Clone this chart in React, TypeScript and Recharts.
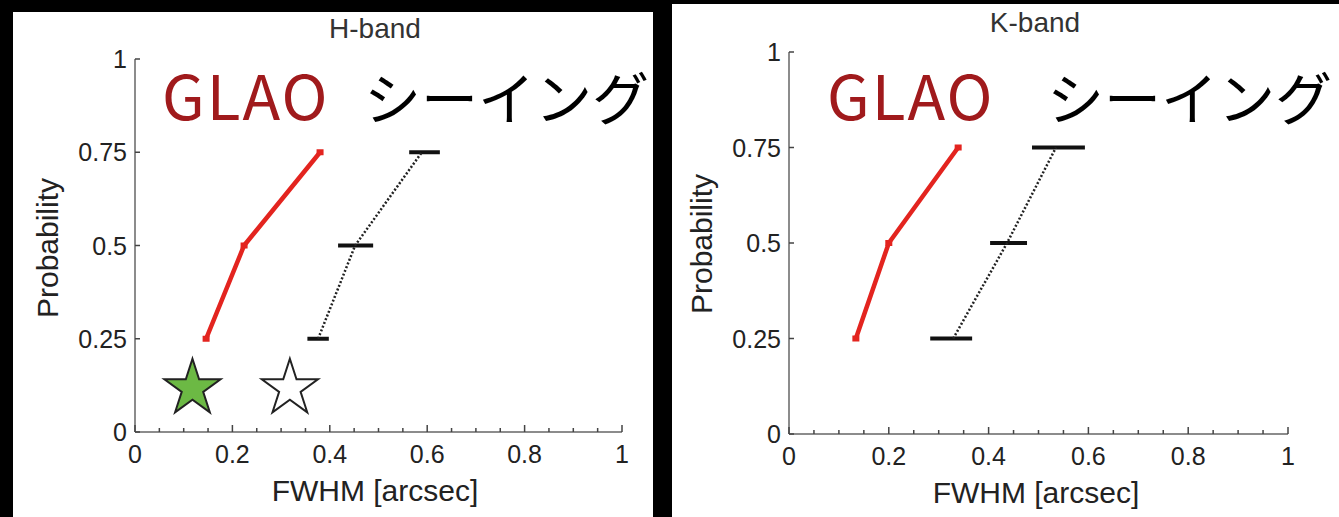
import React from "react";
import { ScatterChart, Scatter, XAxis, YAxis, ErrorBar, Symbols } from "recharts";

// ticks
const xTicks = [0, 0.05, 0.1, 0.15, 0.2, 0.25, 0.3, 0.35, 0.4, 0.45, 0.5, 0.55, 0.6, 0.65, 0.7, 0.75, 0.8, 0.85, 0.9, 0.95, 1];
const xMajor = [0, 0.2, 0.4, 0.6, 0.8, 1];
const yTicks = [0, 0.25, 0.5, 0.75, 1];

// probability levels (shared)
const probs = [0.25, 0.5, 0.75];

// H-band
const hGlaoFwhm = [0.146, 0.224, 0.38];
const hSeeingFwhm = [0.376, 0.452, 0.589];
const hSeeingLow = [0.354, 0.417, 0.563];
const hSeeingHigh = [0.398, 0.489, 0.626];
const hStarX = [0.118, 0.318];
const hStarY = [0.117, 0.117];
const hStarFill = ["#6cb944", "#ffffff"];

// K-band
const kGlaoFwhm = [0.134, 0.2, 0.339];
const kSeeingFwhm = [0.329, 0.437, 0.535];
const kSeeingLow = [0.283, 0.403, 0.487];
const kSeeingHigh = [0.367, 0.477, 0.593];

const AXIS_FONT = '"Liberation Sans", Arial, sans-serif';
const JP_FONT = '"Noto Sans CJK JP", "Noto Sans", sans-serif';
const XH = 40; // x axis band height
const YW = 60; // y axis band width

const XTick = (props: any) => {
  const { x, y, payload } = props;
  const major = xMajor.includes(payload.value);
  return (
    <g>
      <line x1={x} x2={x} y1={y} y2={y - (major ? 7 : 4)} stroke="#444" strokeWidth={1.5} />
      {major && (
        <text x={x} y={y + 31} textAnchor="middle" fontSize={25} fill="#222" fontFamily={AXIS_FONT}>
          {String(payload.value)}
        </text>
      )}
    </g>
  );
};

const YTick = (props: any) => {
  const { x, y, payload } = props;
  return (
    <g>
      <line x1={x} x2={x + 5} y1={y} y2={y} stroke="#444" strokeWidth={1.5} />
      <text x={x - 8} y={y} dy="0.36em" textAnchor="end" fontSize={25} fill="#222" fontFamily={AXIS_FONT}>
        {String(payload.value)}
      </text>
    </g>
  );
};

const RedMark = (p: any) => <rect x={p.cx - 3.5} y={p.cy - 3} width={7} height={6} fill="#e3241f" />;
const NoMark = () => <g />;

interface PanelProps {
  left: number; top: number; width: number; height: number;
  margin: { top: number; right: number; bottom: number; left: number };
  title: string; titleX: number; titleY: number;
  ylabX: number; ylabY: number; xlabX: number; xlabY: number;
  glaoX: number; glaoY: number; seeX: number; seeY: number;
  glao: number[]; seeing: number[]; low: number[]; high: number[];
  stars?: { x: number; y: number; fill: string }[];
}

function Panel(p: PanelProps) {
  const glaoData = probs.map((y, i) => ({ x: p.glao[i], y }));
  const seeData = probs.map((y, i) => ({
    x: p.seeing[i], y, err: [p.seeing[i] - p.low[i], p.high[i] - p.seeing[i]],
  }));
  const m = { top: p.margin.top, right: p.margin.right, bottom: p.margin.bottom - XH, left: p.margin.left - YW };
  return (
    <div style={{ position: "absolute", left: p.left, top: p.top, width: p.width, height: p.height, background: "#fff", overflow: "hidden" }}>
      <ScatterChart width={p.width} height={p.height} margin={m}>
        <XAxis type="number" dataKey="x" domain={[0, 1]} ticks={xTicks} interval={0} tick={<XTick />}
          tickLine={false} tickSize={0} tickMargin={0} height={XH} axisLine={{ stroke: "#666", strokeWidth: 1.5 }} />
        <YAxis type="number" dataKey="y" domain={[0, 1]} ticks={yTicks} interval={0} tick={<YTick />}
          tickLine={false} tickSize={0} tickMargin={0} width={YW} axisLine={{ stroke: "#666", strokeWidth: 1.5 }} />
        <Scatter data={seeData} isAnimationActive={false} shape={<NoMark />}
          line={{ stroke: "#222", strokeWidth: 2.5, strokeDasharray: "2 2" }}>
          <ErrorBar dataKey="err" direction="x" width={0} stroke="#111" strokeWidth={4} isAnimationActive={false} />
        </Scatter>
        <Scatter data={glaoData} isAnimationActive={false} shape={<RedMark />}
          line={{ stroke: "#e3241f", strokeWidth: 4.5 }} />
        {p.stars && (
          <Scatter data={p.stars} isAnimationActive={false}
            shape={(s: any) => (
              <Symbols cx={s.cx} cy={s.cy} type="star" size={980} fill={s.payload.fill} stroke="#222" strokeWidth={2} />
            )} />
        )}
      </ScatterChart>
      <svg width={p.width} height={p.height} style={{ position: "absolute", left: 0, top: 0, pointerEvents: "none" }}>
        <text x={p.titleX} y={p.titleY} textAnchor="middle" fontSize={28} fill="#333" fontFamily={AXIS_FONT}>{p.title}</text>
        <text x={p.ylabX} y={p.ylabY} textAnchor="middle" dy="0.36em" fontSize={30} fill="#222" fontFamily={AXIS_FONT}
          transform={`rotate(-90 ${p.ylabX} ${p.ylabY})`}>Probability</text>
        <text x={p.xlabX} y={p.xlabY} textAnchor="middle" fontSize={30} fill="#222" fontFamily={AXIS_FONT}>FWHM [arcsec]</text>
        <text x={p.glaoX} y={p.glaoY} fontSize={62} letterSpacing={2} fill="#a01a1c" fontFamily={JP_FONT}>GLAO</text>
        <text x={p.seeX} y={p.seeY} fontSize={57} fill="#000" fontFamily={JP_FONT}>シーイング</text>
      </svg>
    </div>
  );
}

export default function App() {
  const hStars = hStarX.map((x, i) => ({ x, y: hStarY[i], fill: hStarFill[i] }));
  return (
    <div style={{ position: "absolute", left: 0, top: 0, width: 1339, height: 517, background: "#000", overflow: "hidden" }}>
      <Panel left={13} top={12} width={640} height={505}
        margin={{ top: 47, right: 31, bottom: 85, left: 122 }}
        title="H-band" titleX={362} titleY={26}
        ylabX={34} ylabY={236} xlabX={362} xlabY={489}
        glaoX={149} glaoY={108} seeX={351} seeY={108}
        glao={hGlaoFwhm} seeing={hSeeingFwhm} low={hSeeingLow} high={hSeeingHigh} stars={hStars} />
      <Panel left={672} top={4} width={667} height={513}
        margin={{ top: 48, right: 51, bottom: 83, left: 117 }}
        title="K-band" titleX={363} titleY={28}
        ylabX={29} ylabY={240} xlabX={364} xlabY={499}
        glaoX={155} glaoY={116} seeX={375} seeY={116}
        glao={kGlaoFwhm} seeing={kSeeingFwhm} low={kSeeingLow} high={kSeeingHigh} />
    </div>
  );
}
